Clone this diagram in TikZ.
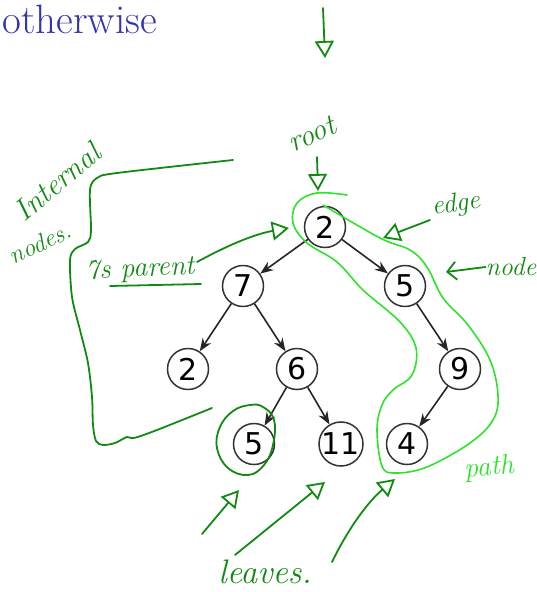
\documentclass[tikz,border=0pt]{standalone}
\usepackage{fontspec}
\usepackage{xcolor}
\usetikzlibrary{arrows.meta, positioning}
\newfontfamily\digitfont{DejaVu Sans}
\definecolor{ink-green}{HTML}{128A12}
\definecolor{ink-lime}{HTML}{30E22C}
\definecolor{slide-blue}{HTML}{3434AC}

\begin{document}
\begin{tikzpicture}[
    x=1pt, y=-1pt,
    vertex/.style={circle, draw=black!80, line width=1.5pt, fill=white, minimum size=41pt, inner sep=0pt, font=\digitfont\fontsize{30}{30}\selectfont},
    child/.style={-{Stealth[length=13pt, width=10pt]}, line width=1.6pt, black!85},
    hand/.style={ink-green, line width=1.8pt, line cap=round, line join=round},
    pointer/.style={hand, -{Triangle[open, length=17pt, width=19pt]}},
    note/.style={text=ink-green, font=\itshape\fontsize{#1}{#1}\selectfont, inner sep=0pt},
    note/.default=24,
    on grid
]
    \useasboundingbox (0,0) rectangle (536,592);

    \node (title) [anchor=base west, inner sep=0pt, text=slide-blue, font=\fontsize{41}{41}\selectfont] at (2,33) {otherwise};

    % the tree
    \node (r) [vertex] at (325,227) {2};
    \node (a) [vertex, below left=59pt and 82pt of r] {7};
    \node (b) [vertex, below right=59pt and 80pt of r] {5};
    \node (c) [vertex, below left=83pt and 55pt of a] {2};
    \node (d) [vertex, below right=83pt and 54pt of a] {6};
    \node (e) [vertex, below right=83pt and 55pt of b] {9};
    \node (f) [vertex, below left=75pt and 43pt of d] {5};
    \node (g) [vertex, below right=75pt and 44pt of d] {11};
    \node (h) [vertex, below left=75pt and 53pt of e] {4};

    \draw [child] (r) -- (a);
    \draw [child] (r) -- (b);
    \draw [child] (a) -- (c);
    \draw [child] (a) -- (d);
    \draw [child] (b) -- (e);
    \draw [child] (d) -- (f);
    \draw [child] (d) -- (g);
    \draw [child] (e) -- (h);

    % ink on top
    \coordinate (top tail) at (323,8);
    \coordinate (top tip) at (325,58);
    \draw [pointer] (top tail) -- (top tip);

    \node (rootnote) [note=30, rotate=25] at (312,134) {root};
    \coordinate (root tail) at (317,157);
    \coordinate (root tip) at (318,191);
    \draw [pointer] (root tail) -- (root tip);

    \draw [ink-lime, line width=1.6pt, line cap=round] plot[smooth, tension=0.6] coordinates {
        (347,195) (317,193) (297,203) (293,223) (307,243) (337,262) (363,290)
        (400,322) (416,348) (412,375) (393,390) (382,405) (377,430) (382,466)
        (395,473) (427,467) (470,443) (493,420) (498,395) (490,360) (468,325)
        (443,298) (427,267) (410,250) (380,238) (323,205)};
    \node (pathnote) [note=28, text=ink-lime, rotate=5] at (489,468) {path};

    \node (edgenote) [note=27, rotate=8] at (456,205) {edge};
    \coordinate (edge tail) at (430,220);
    \coordinate (edge tip) at (383,238);
    \draw [pointer] (edge tail) -- (edge tip);

    \node (nodenote) [note=26] at (511,267) {node};
    \coordinate (node tip) at (446,272);
    \draw [hand, -{Straight Barb[length=9pt, width=18pt]}] (nodenote.west) -- (node tip);

    \node (parentnote) [note=28, rotate=3] at (140,270) {7s parent};
    \draw [hand] (110,286) -- (201,284);
    \coordinate (parent tail) at (197,262);
    \coordinate (parent tip) at (289,228);
    \draw [pointer] (parent tail) .. controls (228,245) and (255,234) .. (parent tip);

    \node (internalnote) [note=30, rotate=40] at (57,182) {Internal};
    \node (nodesnote) [note=25, rotate=25] at (40,243) {nodes.};
    \draw [hand] plot[smooth, tension=0.5] coordinates {
        (233,160) (117,173) (97,178) (90,190) (91,230) (88,242) (75,249)
        (70,260) (72,297) (80,330) (88,363) (92,397) (93,425) (96,441)
        (103,445) (115,443) (127,437) (134,438) (157,430) (212,408)};

    \draw [hand] plot[smooth cycle, tension=0.7] coordinates {
        (263,407) (274,420) (273,445) (264,465) (248,475) (228,468)
        (217,448) (220,427) (233,411) (250,405)};

    \node (leavesnote) [note=34] at (265,572) {leaves.};
    \coordinate (leaf tail 1) at (202,534);
    \coordinate (leaf tip 1) at (239,490);
    \coordinate (leaf tail 2) at (235,555);
    \coordinate (leaf tip 2) at (325,482);
    \coordinate (leaf tail 3) at (332,562);
    \coordinate (leaf tip 3) at (395,479);
    \draw [pointer] (leaf tail 1) -- (leaf tip 1);
    \draw [pointer] (leaf tail 2) -- (leaf tip 2);
    \draw [pointer] (leaf tail 3) .. controls (350,525) and (370,500) .. (leaf tip 3);
\end{tikzpicture}
\end{document}
